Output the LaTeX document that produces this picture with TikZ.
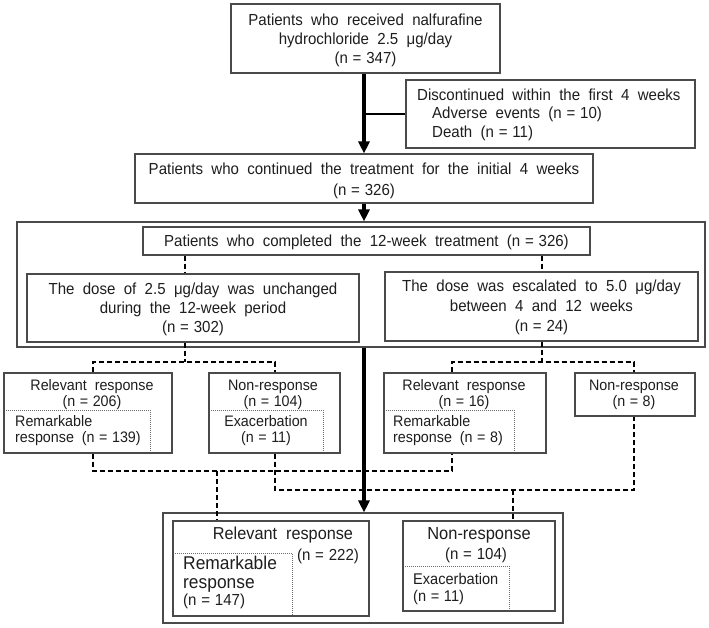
\documentclass[tikz,border=0pt]{standalone}
\usepackage{fontspec}
\setmainfont{Liberation Sans}[WordSpace=2,FakeStretch=0.94]
\usetikzlibrary{arrows.meta,calc}
\definecolor{bcol}{HTML}{4A4A4A}
\definecolor{tcol}{HTML}{1E1E1E}
\newcommand{\ncount}[1]{(n\kern0.3em=\kern0.3em#1)}
\begin{document}
\begin{tikzpicture}[x=1pt,y=-1pt,
  bx/.style={draw=bcol,line width=1.1pt,inner sep=0pt,rectangle},
  dbx/.style={draw=bcol!80,line width=0.8pt,dash pattern=on 1pt off 1pt,inner sep=0pt,rectangle},
  txt/.style={text=tcol,inner sep=0pt,align=center,font={\fontsize{16}{19}\selectfont}},
  stxt/.style={text=tcol,inner sep=0pt,align=center,font={\fontsize{15.2}{16}\selectfont}},
  thickarr/.style={line width=3.4pt,-{Triangle[length=12pt,width=11pt]}},
  dsh/.style={line width=1.4pt,dash pattern=on 5pt off 3pt},
  thinline/.style={line width=1.4pt}]
\fill[white] (0,0) rectangle (709,627);
\useasboundingbox (0,0) rectangle (709,627);

% top level boxes
\node[bx,minimum width=269pt,minimum height=69pt] (top) at (365.5,38.5) {};
\node[txt] (toptxt) at (365.5,40) {Patients who received nalfurafine\\hydrochloride 2.5 μg/day\\\ncount{347}};

\node[bx,minimum width=289pt,minimum height=68pt] (disc) at (550.5,114) {};
\node[txt,align=left,anchor=west,font={\fontsize{16}{18.5}\selectfont}] (disctxt) at (417,114.5)
  {Discontinued within the first 4 weeks\\\hspace*{15pt}Adverse events \ncount{10}\\\hspace*{15pt}Death \ncount{11}};

\node[bx,minimum width=458pt,minimum height=49pt] (cont) at (364,178.5) {};
\node[txt,font={\fontsize{16}{21}\selectfont}] (conttxt) at (364,180.5)
  {Patients who continued the treatment for the initial 4 weeks\\\ncount{326}};

% container 1
\node[bx,minimum width=688pt,minimum height=125pt] (cA) at (361,284.5) {};
\node[bx,minimum width=447pt,minimum height=28pt] (comp) at (366.5,241) {};
\node[txt] (comptxt) at (366.5,242) {Patients who completed the 12-week treatment \ncount{326}};

\node[bx,minimum width=332pt,minimum height=68pt] (doseL) at (193,308) {};
\node[txt] (doseLtxt) at (193,309) {The dose of 2.5 μg/day was unchanged\\during the 12-week period\\\ncount{302}};
\node[bx,minimum width=313pt,minimum height=69pt] (doseR) at (541.5,306.5) {};
\node[txt,font={\fontsize{16}{20}\selectfont}] (doseRtxt) at (541.5,307.5) {The dose was escalated to 5.0 μg/day\\between 4 and 12 weeks\\\ncount{24}};

% response boxes
\node[dbx,minimum width=146pt,minimum height=43pt] (rem139) at (77,431.5) {};
\node[bx,minimum width=168pt,minimum height=80pt] (rel206) at (88,413) {};
\node[stxt] (rel206txt) at (92,395) {Relevant response\\\ncount{206}};
\node[stxt,align=left,anchor=west] (rem139txt) at (15,431) {Remarkable\\response \ncount{139}};

\node[dbx,minimum width=114pt,minimum height=43pt] (exa11) at (266,431.5) {};
\node[bx,minimum width=131pt,minimum height=80pt] (non104) at (274.5,413) {};
\node[stxt] (non104txt) at (273,395) {Non-response\\\ncount{104}};
\node[stxt] (exa11txt) at (266,431) {Exacerbation\\\ncount{11}};

\node[dbx,minimum width=130pt,minimum height=43pt] (rem8) at (449,431.5) {};
\node[bx,minimum width=162pt,minimum height=80pt] (rel16) at (465,413) {};
\node[stxt] (rel16txt) at (464,395) {Relevant response\\\ncount{16}};
\node[stxt,align=left,anchor=west] (rem8txt) at (393,431) {Remarkable\\response \ncount{8}};

\node[bx,minimum width=120pt,minimum height=43pt] (non8) at (635,394.5) {};
\node[stxt] (non8txt) at (634,395) {Non-response\\\ncount{8}};

% bottom container
\node[bx,minimum width=400pt,minimum height=110pt] (cB) at (363,568) {};
\node[dbx,minimum width=119pt,minimum height=63pt] (remB) at (232.5,584.5) {};
\node[bx,minimum width=196pt,minimum height=95pt] (relB) at (271,568.5) {};
\node[txt,font={\fontsize{17.3}{19}\selectfont}] (relBtxt) at (283,535) {Relevant response};
\node[txt,font={\fontsize{16}{18}\selectfont}] (relBn) at (328,556) {\ncount{222}};
\node[txt,align=left,anchor=west,font={\fontsize{18.5}{18.5}\selectfont}] (remBtxt) at (183,574) {Remarkable\\response};
\node[txt,anchor=west,font={\fontsize{16}{18}\selectfont}] (remBn) at (183,601) {\ncount{147}};

\node[dbx,minimum width=106pt,minimum height=45pt] (exaB) at (456,588.5) {};
\node[bx,minimum width=152pt,minimum height=90pt] (nonB) at (479,566) {};
\node[txt,font={\fontsize{17.5}{19}\selectfont}] (nonBtxt) at (479,535) {Non-response};
\node[txt,font={\fontsize{16}{18}\selectfont}] (nonBn) at (476,555) {\ncount{104}};
\node[txt,align=left,anchor=west,font={\fontsize{15.5}{17}\selectfont}] (exaBtxt) at (413,588.5) {Exacerbation\\\ncount{11}};

% thick flow arrows
\coordinate (ax) at (364,0);
\draw[thickarr] (top.south -| ax) -- (cont.north -| ax);
\draw[thinline] (disc.west -| ax) -- (disc.west);
\draw[thickarr] (cont.south -| ax) -- (cA.north -| ax);
\draw[thickarr] (cA.south -| ax) -- (cB.north -| ax);

% dashed connectors: completed -> dose groups
\coordinate (xL) at (185,0);
\coordinate (xR) at (542,0);
\draw[dsh] (comp.south -| xL) -- (doseL.north -| xL);
\draw[dsh] (comp.south -| xR) -- (doseR.north -| xR);

% dose groups -> responses
\coordinate (jL) at (185,362);
\coordinate (jR) at (542,362);
\coordinate (x1) at (93,0);
\coordinate (x2) at (275,0);
\coordinate (x3) at (452,0);
\coordinate (x4) at (634,0);
\draw[dsh] (doseL.south -| jL) -- (jL);
\draw[dsh] (rel206.north -| x1) -- (jL -| x1) -- (jL -| x2) -- (non104.north -| x2);
\draw[dsh] (doseR.south -| jR) -- (jR);
\draw[dsh] (rel16.north -| x3) -- (jR -| x3) -- (jR -| x4) -- (non8.north -| x4);

% responses -> pooled results
\coordinate (lA) at (217,471);
\coordinate (lB) at (513,490);
\draw[dsh] (rel206.south -| x1) -- (lA -| x1) -- (lA -| x3) -- (rel16.south -| x3);
\draw[dsh] (lA) -- (relB.north -| lA);
\draw[dsh] (non104.south -| x2) -- (lB -| x2) -- (lB -| x4) -- (non8.south -| x4);
\draw[dsh] (lB) -- (nonB.north -| lB);
\end{tikzpicture}
\end{document}
